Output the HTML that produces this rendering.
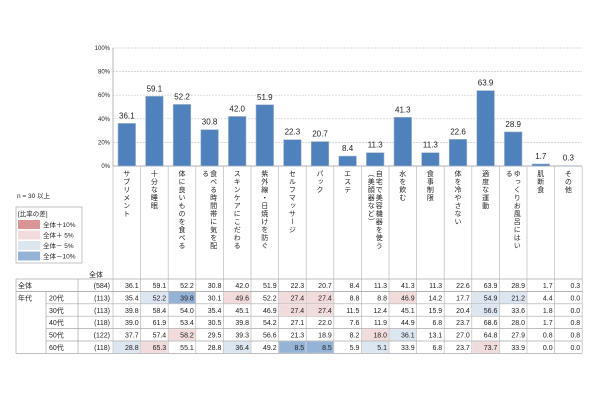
<!DOCTYPE html>
<html><head><meta charset="utf-8"><style>
body{margin:0;background:#fff;font-family:"Liberation Sans","Noto Sans CJK JP",sans-serif;}
#wrap{position:relative;width:600px;height:400px;overflow:hidden;}
.a{position:absolute;}
</style></head><body>
<div id="wrap">
<svg id="svg" width="600" height="400" style="position:absolute;left:0;top:0"></svg>
</div>
<script>
const categories=["サプリメント","十分な睡眠","体に良いものを食べる","食べる時間帯に気を配る","スキンケアにこだわる","紫外線・日焼けを防ぐ","セルフマッサージ","パック","エステ","自宅で美容機器を使う（美顔器など）","水を飲む","食事制限","体を冷やさない","適度な運動","ゆっくりお風呂にはいる","肌断食","その他"];
const totalValues=[36.1,59.1,52.2,30.8,42.0,51.9,22.3,20.7,8.4,11.3,41.3,11.3,22.6,63.9,28.9,1.7,0.3];
const rowLabels=["20代","30代","40代","50代","60代"];
const rowN=["(113)","(113)","(118)","(122)","(118)"];
const row20=[35.4,52.2,39.8,30.1,49.6,52.2,27.4,27.4,8.8,8.8,46.9,14.2,17.7,54.9,21.2,4.4,0.0];
const row30=[39.8,58.4,54.0,35.4,45.1,46.9,27.4,27.4,11.5,12.4,45.1,15.9,20.4,56.6,33.6,1.8,0.0];
const row40=[39.0,61.9,53.4,30.5,39.8,54.2,27.1,22.0,7.6,11.9,44.9,6.8,23.7,68.6,28.0,1.7,0.8];
const row50=[37.7,57.4,58.2,29.5,39.3,56.6,21.3,18.9,8.2,18.0,36.1,13.1,27.0,64.8,27.9,0.8,0.8];
const row60=[28.8,65.3,55.1,28.8,36.4,49.2,8.5,8.5,5.9,5.1,33.9,6.8,23.7,73.7,33.9,0.0,0.0];
const yTicks=[0,20,40,60,80,100];
const rows=[row20,row30,row40,row50,row60];
const NS="http://www.w3.org/2000/svg";
const svg=document.getElementById('svg');
const X0=113,COLW=27.6,Y0=166,YTOP=48;
const y=v=>Y0-(Y0-YTOP)*v/100;
const xc=i=>X0+COLW*i;
function mk(t,at,par){const e=document.createElementNS(NS,t);for(const k in at)e.setAttribute(k,at[k]);(par||svg).appendChild(e);return e;}
function txt(x,yy,s,size,anchor){const e=mk('text',{x:x,y:yy,'font-size':size,'text-anchor':anchor||'middle',fill:'#222','font-family':'Liberation Sans, Noto Sans CJK JP, sans-serif'});e.textContent=s;return e;}
// grid
yTicks.forEach(t=>{
 const g=mk('line',{x1:X0,x2:582,y1:y(t),y2:y(t),stroke:t==0?'#999':'#ccc','stroke-dasharray':t==0?'':'2,1','stroke-width':0.7});
 
 const l=txt(X0-3,y(t)+2,t+'%',6,'end');
 
});
mk('line',{x1:X0,x2:X0,y1:YTOP,y2:Y0,stroke:'#999','stroke-width':0.7});
// bars
totalValues.forEach((v,i)=>{
 const b=mk('rect',{x:xc(i)+5,y:y(v),width:COLW-10,height:Y0-y(v),fill:'#4f81bd',stroke:'#aab8cc','stroke-width':0.6});
 
 const l=txt(xc(i)+COLW/2,y(v)-5,v.toFixed(1),8);
 
});
// category label column lines
const TT=279,RH=12.4;
for(let i=0;i<=17;i++){mk('line',{x1:xc(i),x2:xc(i),y1:Y0,y2:TT+RH*6,stroke:'#bbb','stroke-width':0.7});}
// vertical labels
categories.forEach((c,i)=>{
 const parts=c.length>12&&c.indexOf('（')>0?[c.slice(0,c.indexOf('（')),c.slice(c.indexOf('（'))]:(c.length>10?[c.slice(0,10),c.slice(10)]:[c]);
 parts.forEach((p,j)=>{
  const px=xc(i)+COLW/2+(parts.length>1?(j==0?4:-4):0);
  const e=mk('text',{x:px,y:Y0+4,'font-size':7,fill:'#222','writing-mode':'tb','glyph-orientation-vertical':0,'font-family':'Noto Sans CJK JP, sans-serif'});
  e.setAttribute('style','writing-mode:vertical-rl;text-orientation:upright;letter-spacing:1px');
  e.textContent=p;
  
 });
});
// table
const L=16;
txt(96,277,'全体',7);
for(let r=0;r<=6;r++){mk('line',{x1:r==0||r==1||r==6?L:46,x2:582,y1:TT+RH*r,y2:TT+RH*r,stroke:'#aaa','stroke-width':0.7});}
mk('line',{x1:L,x2:582,y1:TT+RH,y2:TT+RH,stroke:'#aaa','stroke-width':0.7});
mk('line',{x1:L,x2:L,y1:TT,y2:TT+RH*6,stroke:'#aaa','stroke-width':0.7});
mk('line',{x1:46,x2:46,y1:TT+RH,y2:TT+RH*6,stroke:'#aaa','stroke-width':0.7});
mk('line',{x1:78,x2:78,y1:TT,y2:TT+RH*6,stroke:'#aaa','stroke-width':0.7});
const shade={"0,1":'b',"0,2":'B',"0,4":'p',"0,6":'p',"0,7":'p',"0,10":'p',"0,13":'b',"0,14":'b',
"1,6":'p',"1,7":'p',"1,13":'b',"3,2":'p',"3,9":'p',"3,10":'b',
"4,0":'b',"4,1":'p',"4,4":'b',"4,6":'B',"4,7":'B',"4,9":'b',"4,13":'p'};
const col={p:'#f2dcdb',b:'#dce6f1',B:'#95b3d7',P:'#da9694'};
txt(L+2,TT+9,'全体',7,'start');
txt(110,TT+9,'(584)',7,'end');
totalValues.forEach((v,i)=>{const t=txt(xc(i)+COLW-2,TT+9,v.toFixed(1),7,'end');});
txt(L+2,TT+RH+9,'年代',7,'start');
rows.forEach((row,r)=>{
 const ty=TT+RH*(r+1);
 txt(49,ty+9,rowLabels[r],7,'start');
 txt(110,ty+9,rowN[r],7,'end');
 row.forEach((v,i)=>{
  const s=shade[r+','+i];
  if(s){const c=mk('rect',{x:xc(i)+0.5,y:ty+0.5,width:COLW-1,height:RH-1,fill:col[s]});}
  const t=txt(xc(i)+COLW-2,ty+9,v.toFixed(1),7,'end');
  
 });
});
// legend
txt(17,198,'n = 30 以上',6.5,'start');
mk('rect',{x:16,y:207,width:66,height:56,fill:'#fff',stroke:'#aaa','stroke-width':0.7});
txt(18,216,'[比率の差]',6.5,'start');
[['P','全体＋10%'],['p','全体＋ 5%'],['b','全体－ 5%'],['B','全体－10%']].forEach((e,k)=>{
 const r=mk('rect',{x:18,y:220+k*10.5,width:22,height:9,fill:col[e[0]]});
 
 const t=txt(43,227+k*10.5,e[1],6.5,'start');
});
</script>
</body></html>
